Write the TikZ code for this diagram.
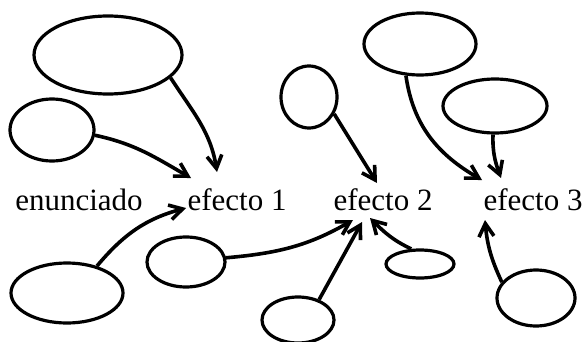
\documentclass[tikz,border=0pt]{standalone}
\usepackage{fontspec}
\setmainfont{Liberation Serif}
\usetikzlibrary{shapes.geometric,arrows.meta}
\begin{document}
\begin{tikzpicture}[x=1pt, y=1pt, line width=3.2pt,
		blob/.style={ellipse, draw, inner sep=0pt},
		word/.style={anchor=base, font=\fontsize{31}{37}\selectfont},
		link/.style={-{Straight Barb[length=13pt,width=15pt]}, line width=3.6pt}]
		\useasboundingbox (0,0) rectangle (584,341);
		\node[word] (enun) at (79,131) {enunciado};
		\node[word] (ef1) at (237,131) {efecto 1};
		\node[word] (ef2) at (383,131) {efecto 2};
		\node[word] (ef3) at (533,131) {efecto 3};
		\node[blob, minimum width=148pt, minimum height=78pt] (big) at (108,286) {};
		\node[blob, minimum width=84pt, minimum height=62pt] (left) at (52,211) {};
		\node[blob, minimum width=112pt, minimum height=60pt] (low) at (67,48) {};
		\node[blob, minimum width=78pt, minimum height=50pt] (mid) at (186,79) {};
		\node[blob, minimum width=72pt, minimum height=46pt] (bot) at (298,21) {};
		\node[blob, minimum width=56pt, minimum height=62pt] (round) at (309,244) {};
		\node[blob, minimum width=68pt, minimum height=28pt] (flat) at (420,77) {};
		\node[blob, minimum width=112pt, minimum height=62pt] (top) at (420,297) {};
		\node[blob, minimum width=104pt, minimum height=54pt] (side) at (495,235) {};
		\node[blob, minimum width=78pt, minimum height=56pt] (corner) at (536,43) {};
		\draw[link] (big.-20) to[out=-57, in=99] ([xshift=-20pt, yshift=38pt]ef1.base);
		\draw[link] (left.-7) to[out=-12, in=150] ([xshift=-46pt, yshift=32pt]ef1.base);
		\draw[link] (low.42) to[out=50, in=-165] ([xshift=-51pt, yshift=2pt]ef1.base);
		\draw[link] (mid.6) to[out=5, in=-150] ([xshift=-30pt, yshift=-10pt]ef2.base);
		\draw[link] (bot.44) -- ([xshift=-21pt, yshift=-12pt]ef2.base);
		\draw[link] (flat.120) to[out=155, in=-45] ([xshift=-13pt, yshift=-8pt]ef2.base);
		\draw[link] (round.-34) -- ([xshift=-6pt, yshift=27pt]ef2.base);
		\draw[link] (top.-114) to[out=-82, in=150] ([xshift=-51pt, yshift=30pt]ef3.base);
		\draw[link] (side.-94) to[out=-92, in=110] ([xshift=-32pt, yshift=32pt]ef3.base);
		\draw[link] (corner.155) to[out=115, in=-85] ([xshift=-48pt, yshift=-10pt]ef3.base);
	\end{tikzpicture}
\end{document}
